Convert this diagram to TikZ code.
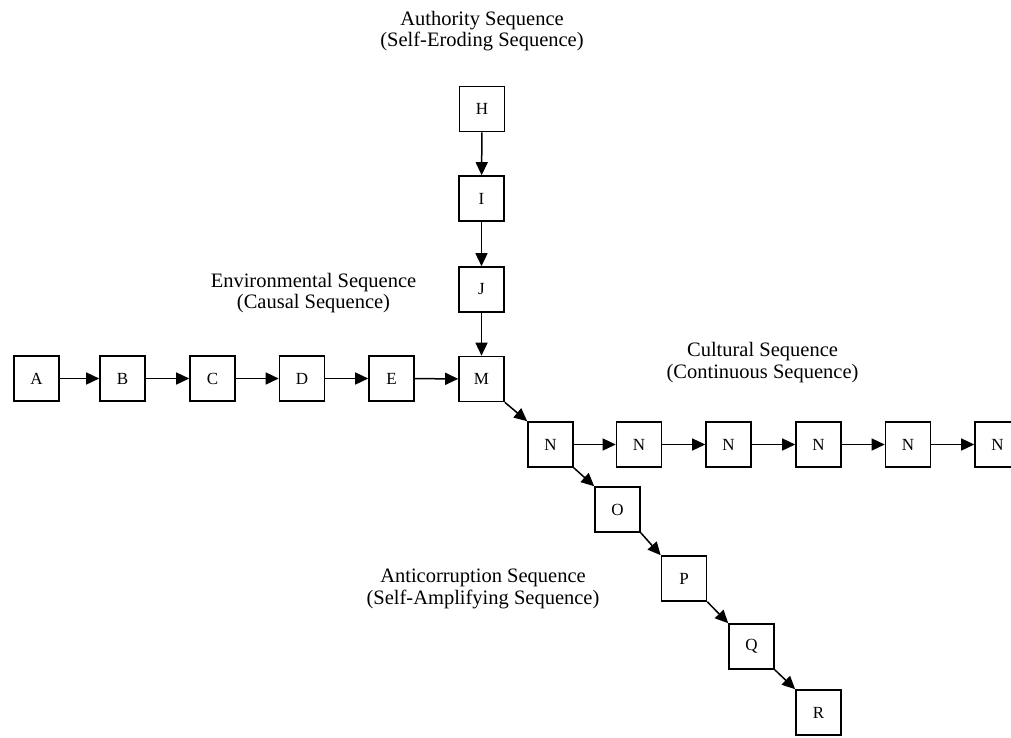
\documentclass[tikz,border=0pt]{standalone}
\usepackage{fontspec}
\setmainfont{Liberation Serif}
\usetikzlibrary{arrows.meta}
\begin{document}
\begin{tikzpicture}[x=1pt,y=-1pt,
 box/.style={draw,line width=1.6pt,minimum size=45pt,inner sep=0pt,font=\fontsize{17}{19}\selectfont},
 arr/.style={line width=1.5pt,-{Triangle[length=13pt,width=12pt]}},
 lbl/.style={align=center,font=\fontsize{20.5}{21.5}\selectfont}]
\useasboundingbox[clip] (0,0) rectangle (1011,737);
\node[box] (A) at (36.5,378.5) {A};
\node[box] (B) at (122.5,378.5) {B};
\node[box] (C) at (212.5,378.5) {C};
\node[box] (D) at (302,378.5) {D};
\node[box] (E) at (391.5,378.5) {E};
\node[box] (M) at (481.5,379) {M};
\node[box] (H) at (482,109) {H};
\node[box] (I) at (481.5,198.5) {I};
\node[box] (J) at (481.5,289.5) {J};
\node[box] (N1) at (550.5,444.5) {N};
\node[box] (N2) at (639,444.5) {N};
\node[box] (N3) at (728.5,444.5) {N};
\node[box] (N4) at (818.5,444.5) {N};
\node[box] (N5) at (908,444.5) {N};
\node[box] (N6) at (997.5,444.5) {N};
\node[box] (O) at (617.5,509.5) {O};
\node[box] (P) at (684,578.5) {P};
\node[box] (Q) at (751.5,646.5) {Q};
\node[box] (R) at (818.5,712.5) {R};
\draw[arr] (A) -- (B);
\draw[arr] (B) -- (C);
\draw[arr] (C) -- (D);
\draw[arr] (D) -- (E);
\draw[arr] (E) -- (M);
\draw[arr] (H) -- (I);
\draw[arr] (I) -- (J);
\draw[arr] (J) -- (M);
\draw[arr] (M.south east) -- (N1.north west);
\draw[arr] (N1) -- (N2);
\draw[arr] (N2) -- (N3);
\draw[arr] (N3) -- (N4);
\draw[arr] (N4) -- (N5);
\draw[arr] (N5) -- (N6);
\draw[arr] (N1.south east) -- (O.north west);
\draw[arr] (O.south east) -- (P.north west);
\draw[arr] (P.south east) -- (Q.north west);
\draw[arr] (Q.south east) -- (R.north west);
\node[lbl] (authl) at (482,31) {Authority Sequence\\(Self-Eroding Sequence)};
\node[lbl] (envl) at (313.5,293) {Environmental Sequence\\(Causal Sequence)};
\node[lbl] (cultl) at (762.5,362.5) {Cultural Sequence\\(Continuous Sequence)};
\node[lbl] (antil) at (483,589) {Anticorruption Sequence\\(Self-Amplifying Sequence)};
\end{tikzpicture}
\end{document}
